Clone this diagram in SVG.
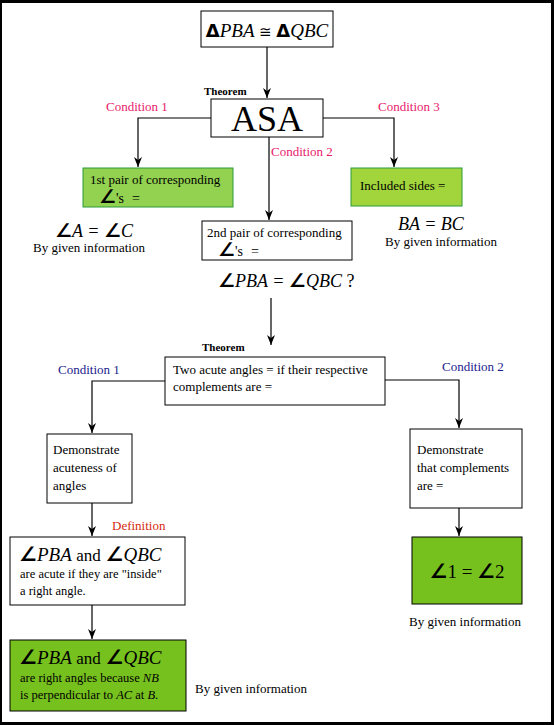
<svg xmlns="http://www.w3.org/2000/svg" width="554" height="725" viewBox="0 0 554 725">
<style>
.t{font-family:"Liberation Serif",serif;font-size:13px;fill:#000}
.i{font-style:italic}
.m{font-family:"Liberation Serif",serif;font-style:italic;fill:#000}
.ang{font-family:"DejaVu Sans",sans-serif;font-weight:bold;font-style:normal}
.th{font-family:"Liberation Serif",serif;font-size:11px;font-weight:bold;fill:#000}
.c1{font-family:"Liberation Serif",serif;font-size:13px;fill:#e8206a}
.c2{font-family:"Liberation Serif",serif;font-size:13px;fill:#1c1c8e}
.df{font-family:"Liberation Serif",serif;font-size:13px;fill:#d42a10}
.box{fill:#fff;stroke:#000;stroke-width:1}
.g1{fill:#93d150;stroke:#2a9a3a;stroke-width:1}
.g2{fill:#a2d53c;stroke:#2a9a3a;stroke-width:1}
.g3{fill:#77c11f;stroke:#000;stroke-width:1}
.ln{fill:none;stroke:#000;stroke-width:1.2}
</style>
<defs>
<marker id="ar" markerWidth="10" markerHeight="8" refX="10" refY="4" orient="auto" markerUnits="userSpaceOnUse" viewBox="0 0 10 8">
<path d="M0,0 L3,4 L0,8 L10,4 Z" fill="#000"/>
</marker>
</defs>
<rect x="0" y="0" width="554" height="725" fill="#000"/>
<rect x="2" y="3" width="549" height="719" fill="#fff"/>

<g id="connectors">
<path class="ln" d="M267,47 V98" marker-end="url(#ar)"/>
<path class="ln" d="M211,118 H138 V167" marker-end="url(#ar)"/>
<path class="ln" d="M269,137 V220" marker-end="url(#ar)"/>
<path class="ln" d="M323,118 H394 V167" marker-end="url(#ar)"/>
<path class="ln" d="M271,298 V345" marker-end="url(#ar)"/>
<path class="ln" d="M165,381 H92 V433" marker-end="url(#ar)"/>
<path class="ln" d="M385,380 H459 V428" marker-end="url(#ar)"/>
<path class="ln" d="M92,503 V536" marker-end="url(#ar)"/>
<path class="ln" d="M92,605 V639" marker-end="url(#ar)"/>
<path class="ln" d="M459,508 V536" marker-end="url(#ar)"/>
</g>

<g id="top">
<rect class="box" x="201" y="11" width="132" height="36"/>
<text x="267" y="37" class="m" style="font-size:19px" text-anchor="middle"><tspan class="ang" style="font-size:18px">Δ</tspan>PBA <tspan style="font-style:normal;font-family:'DejaVu Sans',sans-serif;font-size:15px">≅</tspan> <tspan class="ang" style="font-size:18px">Δ</tspan>QBC</text>
</g>

<g id="asa">
<text x="204" y="95" class="th">Theorem</text>
<rect class="box" x="211" y="99" width="112" height="38"/>
<text x="267" y="131" class="t" style="font-size:36px" text-anchor="middle">ASA</text>
<text x="106" y="111" class="c1">Condition 1</text>
<text x="271" y="156" class="c1">Condition 2</text>
<text x="378" y="111" class="c1">Condition 3</text>
</g>

<g id="pair1">
<rect class="g1" x="83" y="168" width="150" height="39"/>
<text x="90" y="184" class="t">1st pair of corresponding</text>
<text x="99" y="203" class="t" style="font-size:14px"><tspan class="ang" style="font-size:19px">∠</tspan>'s<tspan dx="8">=</tspan></text>
<text x="55" y="237" class="m" style="font-size:18px"><tspan class="ang" style="font-size:19px">∠</tspan>A = <tspan class="ang" style="font-size:19px">∠</tspan>C</text>
<text x="33" y="252" class="t">By given information</text>
</g>

<g id="sides">
<rect class="g2" x="351" y="168" width="111" height="38"/>
<text x="360" y="190" class="t">Included sides =</text>
<text x="398" y="230" class="m" style="font-size:18px">BA = BC</text>
<text x="385" y="246" class="t">By given information</text>
</g>

<g id="pair2">
<rect class="box" x="202" y="221" width="150" height="39"/>
<text x="207" y="237" class="t">2nd pair of corresponding</text>
<text x="218" y="256" class="t" style="font-size:14px"><tspan class="ang" style="font-size:19px">∠</tspan>'s<tspan dx="8">=</tspan></text>
<text x="218" y="287" class="m" style="font-size:18px"><tspan class="ang" style="font-size:19px">∠</tspan>PBA = <tspan class="ang" style="font-size:19px">∠</tspan>QBC <tspan style="font-style:normal">?</tspan></text>
</g>

<g id="theorem2">
<text x="202" y="351" class="th">Theorem</text>
<rect class="box" x="165" y="357" width="220" height="48"/>
<text x="173" y="374" class="t">Two acute angles = if their respective</text>
<text x="173" y="391" class="t">complements are =</text>
<text x="58" y="374" class="c2">Condition 1</text>
<text x="442" y="371" class="c2">Condition 2</text>
</g>

<g id="acute">
<rect class="box" x="47" y="434" width="85" height="69"/>
<text x="53" y="454" class="t">Demonstrate</text>
<text x="53" y="472" class="t">acuteness of</text>
<text x="53" y="490" class="t">angles</text>
</g>

<g id="complements">
<rect class="box" x="410" y="429" width="112" height="79"/>
<text x="417" y="454" class="t">Demonstrate</text>
<text x="417" y="472" class="t">that complements</text>
<text x="417" y="490" class="t">are =</text>
</g>

<g id="definition">
<text x="112" y="530" class="df">Definition</text>
<rect class="box" x="10" y="537" width="175" height="68"/>
<text x="19" y="561" class="m" style="font-size:19px"><tspan class="ang" style="font-size:20px">∠</tspan>PBA <tspan style="font-style:normal;font-size:17px">and</tspan>  <tspan class="ang" style="font-size:20px">∠</tspan>QBC</text>
<text x="20" y="578" class="t" style="font-size:12.5px">are acute if they are "inside"</text>
<text x="20" y="595" class="t" style="font-size:12.5px">a right angle.</text>
</g>

<g id="right">
<rect class="g3" x="10" y="640" width="176" height="71"/>
<text x="19" y="664" class="m" style="font-size:19px"><tspan class="ang" style="font-size:20px">∠</tspan>PBA <tspan style="font-style:normal;font-size:17px">and</tspan>  <tspan class="ang" style="font-size:20px">∠</tspan>QBC</text>
<text x="20" y="682" class="t" style="font-size:12.5px">are right angles because <tspan class="i">NB</tspan></text>
<text x="20" y="699" class="t" style="font-size:12.5px">is perpendicular to <tspan class="i">AC</tspan> at <tspan class="i">B</tspan>.</text>
<text x="195" y="693" class="t">By given information</text>
</g>

<g id="equal12">
<rect class="g3" x="412" y="537" width="110" height="67"/>
<text x="467" y="578" class="t" style="font-size:19px" text-anchor="middle"><tspan class="ang" style="font-size:20px">∠</tspan>1 = <tspan class="ang" style="font-size:20px">∠</tspan>2</text>
<text x="409" y="626" class="t">By given information</text>
</g>
</svg>
